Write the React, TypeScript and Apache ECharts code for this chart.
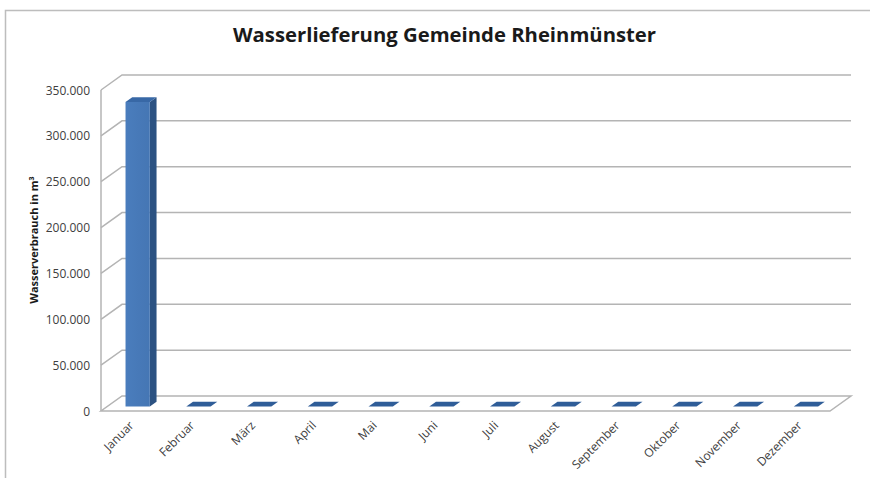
import React, { useEffect, useRef } from "react";
import * as echarts from "echarts";

const TITLE = "Wasserlieferung Gemeinde Rheinmünster";
const Y_NAME = "Wasserverbrauch in m³";
const months = [
  "Januar", "Februar", "März", "April", "Mai", "Juni",
  "Juli", "August", "September", "Oktober", "November", "Dezember",
];
const values = [332000, 0, 0, 0, 0, 0, 0, 0, 0, 0, 0, 0];
const yTicks = [0, 50000, 100000, 150000, 200000, 250000, 300000, 350000];

const DX = 21;
const DY = -15;
const F0 = 0.3;
const F1 = 0.62;
const WALL = "#b4b4b4";

function fmt(v: number) {
  return String(v).replace(/\B(?=(\d{3})+(?!\d))/g, ".");
}

export default function App() {
  const ref = useRef<HTMLDivElement>(null);
  useEffect(() => {
    document.body.style.margin = "0";
    const chart = echarts.init(ref.current!, null, { renderer: "svg" });
    const option: any = {
      animation: false,
      backgroundColor: "#ffffff",
      title: {
        text: TITLE,
        left: 233,
        top: 24,
        padding: 0,
        textStyle: { fontFamily: "Open Sans", fontWeight: "bold", fontSize: 20.3, color: "#1a1a1a" },
      },
      graphic: [
        {
          type: "polyline",
          shape: { points: [[5.5, 478], [5.5, 10.5], [870, 10.5]] },
          style: { stroke: "#bdbdbd", lineWidth: 1.5, fill: null },
          silent: true,
        },
        {
          type: "text",
          x: 33,
          y: 240,
          rotation: Math.PI / 2,
          style: {
            text: Y_NAME,
            fontFamily: "Open Sans",
            fontWeight: "bold",
            fontSize: 11,
            fill: "#1a1a1a",
            align: "center",
            verticalAlign: "middle",
          },
        },
      ],
      grid: { left: 101, right: 40, top: 90, bottom: 67 },
      xAxis: {
        type: "category",
        data: months,
        axisLine: { show: false },
        axisTick: { show: false },
        axisLabel: {
          rotate: 45,
          margin: 12,
          interval: 0,
          fontFamily: "Open Sans",
          fontSize: 12,
          color: "#404040",
        },
      },
      yAxis: {
        type: "value",
        min: 0,
        max: 350000,
        interval: 50000,
        axisLine: { show: false },
        axisTick: { show: false },
        splitLine: { show: false },
        axisLabel: {
          margin: 11,
          fontFamily: "Open Sans",
          fontSize: 12,
          color: "#404040",
          formatter: (v: number) => fmt(v),
        },
      },
      series: [
        {
          type: "custom",
          name: "walls",
          silent: true,
          z: 1,
          data: yTicks.map((v) => [0, v]),
          renderItem: (params: any, api: any) => {
            const cs = params.coordSys;
            const x0 = cs.x;
            const x1 = cs.x + cs.width;
            const v = api.value(1);
            const y = api.coord([0, v])[1];
            const children: any[] = [];
            const ls = { stroke: WALL, lineWidth: 1.5, fill: null };
            if (v === 0) {
              children.push({
                type: "polygon",
                shape: { points: [[x0, y], [x1, y], [x1 + DX, y + DY], [x0 + DX, y + DY]] },
                style: { stroke: WALL, lineWidth: 1.5, fill: "#ffffff" },
              });
              const yTop = api.coord([0, yTicks[yTicks.length - 1]])[1];
              children.push({
                type: "line",
                shape: { x1: x0, y1: y, x2: x0, y2: yTop },
                style: ls,
              });
            } else {
              children.push({
                type: "polyline",
                shape: { points: [[x0, y], [x0 + DX, y + DY], [x1 + DX, y + DY]] },
                style: ls,
              });
            }
            return { type: "group", children };
          },
        },
        {
          type: "custom",
          name: "Wasserverbrauch",
          z: 2,
          data: values.map((v, i) => [i, v]),
          renderItem: (params: any, api: any) => {
            const i = api.value(0);
            const v = api.value(1);
            const base = api.coord([i, 0]);
            const top = api.coord([i, v]);
            const bw = api.size([1, 0])[0] / 2.5;
            const cx = base[0];
            const xl0 = cx - bw / 2 + DX * F0;
            const xr0 = xl0 + bw;
            const xl1 = cx - bw / 2 + DX * F1;
            const xr1 = xl1 + bw;
            const yb0 = base[1] + DY * F0;
            const yt0 = top[1] + DY * F0;
            const yb1 = base[1] + DY * F1;
            const yt1 = top[1] + DY * F1;
            const children: any[] = [];
            if (yb0 - yt0 > 0.5) {
              children.push({
                type: "polygon",
                shape: { points: [[xr0, yt0], [xr1, yt1], [xr1, yb1], [xr0, yb0]] },
                style: { fill: "#2c5282" },
              });
              children.push({
                type: "rect",
                shape: { x: xl0, y: yt0, width: bw, height: yb0 - yt0 },
                style: {
                  fill: new echarts.graphic.LinearGradient(0, 0, 1, 0, [
                    { offset: 0, color: "#4a7dbd" },
                    { offset: 1, color: "#4576b4" },
                  ]),
                },
              });
            }
            children.push({
              type: "polygon",
              shape: { points: [[xl0, yt0], [xr0, yt0], [xr1, yt1], [xl1, yt1]] },
              style: { fill: v > 0 ? "#3868a6" : "#2f5d98" },
            });
            return { type: "group", children };
          },
        },
      ],
    };
    chart.setOption(option);
    return () => chart.dispose();
  }, []);
  return (
    <div
      ref={ref}
      style={{ position: "fixed", left: 0, top: 0, width: 870, height: 478 }}
    />
  );
}
